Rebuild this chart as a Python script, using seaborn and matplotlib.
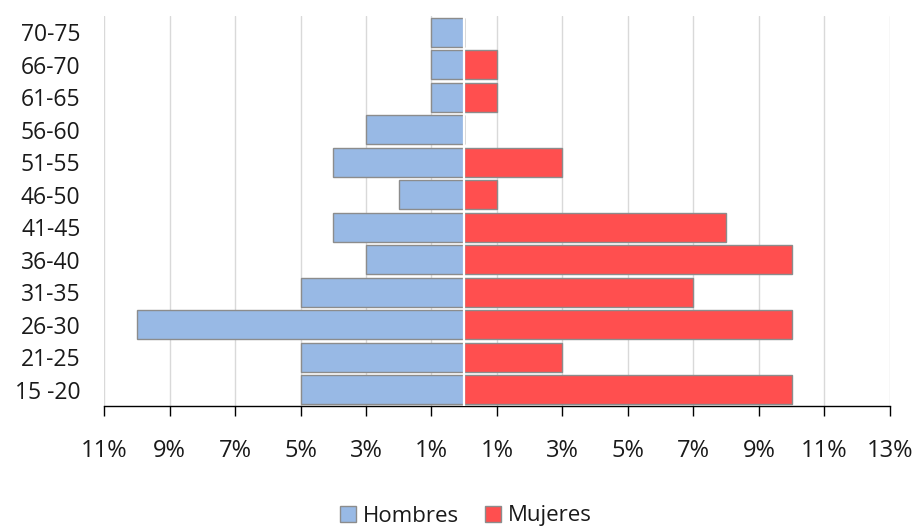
import matplotlib
matplotlib.use("Agg")
import matplotlib.pyplot as plt
import seaborn as sns
import pandas as pd
from matplotlib.patches import Patch

# Age groups, top to bottom
age_groups = ["70-75", "66-70", "61-65", "56-60", "51-55", "46-50",
              "41-45", "36-40", "31-35", "26-30", "21-25", "15 -20"]
# Share of each group (%)
hombres = [1, 1, 1, 3, 4, 2, 4, 3, 5, 10, 5, 5]
mujeres = [0, 1, 1, 0, 3, 1, 8, 10, 7, 10, 3, 10]

tick_values = [-11, -9, -7, -5, -3, -1, 1, 3, 5, 7, 9, 11, 13]
tick_labels = [f"{abs(v)}%" for v in tick_values]

sex_labels = ["Hombres", "Mujeres"]
colors = {"Hombres": "#98B9E5", "Mujeres": "#FF4F4F"}

df = pd.concat([
    pd.DataFrame({"edad": age_groups, "valor": [-v for v in hombres], "sexo": "Hombres"}),
    pd.DataFrame({"edad": age_groups, "valor": mujeres, "sexo": "Mujeres"}),
], ignore_index=True)

sns.set_theme(style="white")
plt.rcParams["font.family"] = ["Open Sans", "DejaVu Sans"]

fig = plt.figure(figsize=(9.17, 5.27), dpi=100)
ax = fig.add_axes([104 / 917, 1 - 406 / 527, (890 - 104) / 917, (406 - 16) / 527])

sns.barplot(data=df, x="valor", y="edad", hue="sexo", order=age_groups,
            hue_order=sex_labels, palette=colors, saturation=1, dodge=False,
            orient="h", width=0.88, edgecolor="#8C8C8C", linewidth=1.0,
            legend=False, zorder=2, ax=ax)

# thin white separation between the two halves
ax.axvline(0, color="white", lw=1.6, zorder=3)

ax.set_xlim(-11, 13)
ax.set_ylim(len(age_groups) - 0.5, -0.5)
ax.set_xticks(tick_values)
ax.set_xticklabels(tick_labels)
ax.xaxis.grid(True, color="#D9D9D9", lw=1.0, zorder=0)
ax.yaxis.grid(False)
ax.set_axisbelow(True)
ax.set_xlabel("")
ax.set_ylabel("")

for side in ["top", "right", "left"]:
    ax.spines[side].set_visible(False)
ax.spines["bottom"].set_color("#000000")
ax.spines["bottom"].set_linewidth(1.0)

ax.tick_params(axis="x", which="major", bottom=True, direction="out", length=7,
               width=1, color="#000000", pad=17, labelsize=17, labelcolor="#1a1a1a")
ax.tick_params(axis="y", left=False, length=0, pad=17, labelsize=16.5,
               labelcolor="#1a1a1a")

handles = [Patch(facecolor=colors[s], edgecolor="#8C8C8C", lw=1.0, label=s) for s in sex_labels]
fig.legend(handles=handles, loc="center", bbox_to_anchor=(466 / 917, 1 - 516 / 527),
           ncol=2, frameon=False, fontsize=16, handlelength=0.7, handleheight=0.7,
           handletextpad=0.3, columnspacing=1.2, labelcolor="#1a1a1a",
           borderpad=0.1)

fig.savefig("out.png", dpi=100)
